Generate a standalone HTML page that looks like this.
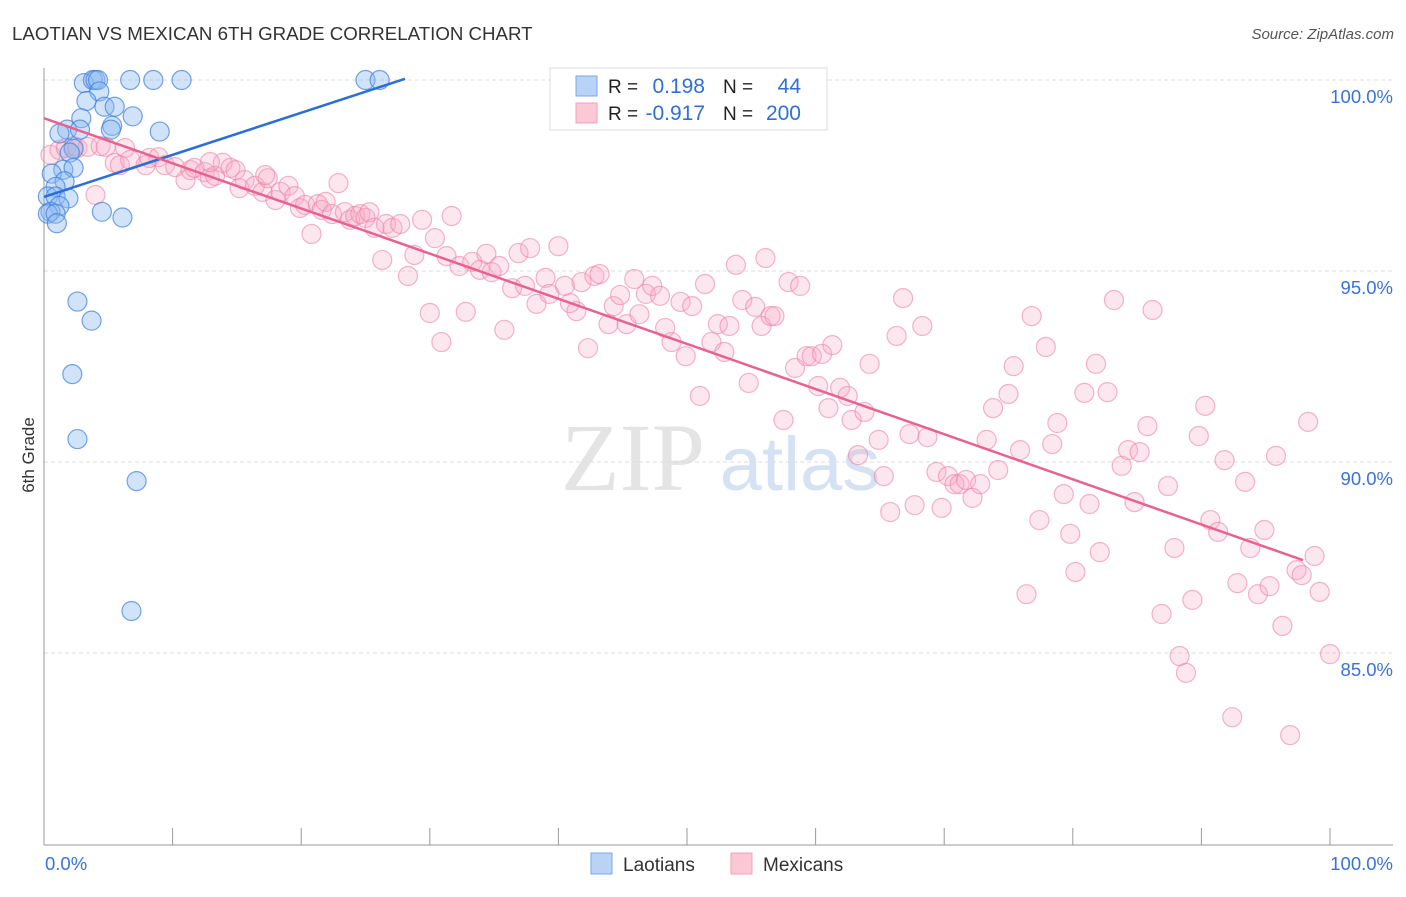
<!DOCTYPE html>
<html><head><meta charset="utf-8"><style>
body{margin:0;background:#fff;font-family:"Liberation Sans",sans-serif;}
svg text{font-family:"Liberation Sans",sans-serif;}
</style></head><body>
<svg id="chart" width="1406" height="892" xmlns="http://www.w3.org/2000/svg">
<text x="12" y="40" font-size="18.7" fill="#333">LAOTIAN VS MEXICAN 6TH GRADE CORRELATION CHART</text>
<text x="1394" y="39" font-size="15" font-style="italic" fill="#555" text-anchor="end">Source: ZipAtlas.com</text>
<g>
<text x="633" y="490" font-size="96" font-family="Liberation Serif" fill="#e4e4e4" text-anchor="middle" style="font-family:'Liberation Serif',serif">ZIP</text>
<text x="800" y="490" font-size="76" fill="#d4e2f4" text-anchor="middle">atlas</text>
</g>
<g id="grid"></g>
<g id="axes"></g>
<g id="pts"></g>
<g id="lines"></g>
<text x="34" y="455" font-size="17" fill="#333" text-anchor="middle" transform="rotate(-90 34 455)">6th Grade</text>
<g>
<rect x="550" y="68" width="277" height="62" fill="#fff" stroke="#ddd"/>
<rect x="576" y="76" width="21" height="20" fill="#b8d3f5" stroke="#7aaae8"/>
<rect x="576" y="103" width="21" height="20" fill="#fcc8d6" stroke="#f0a0bc"/>
<text x="608" y="93" font-size="19" fill="#222">R =</text><text x="705" y="93" font-size="21" fill="#2f6fd6" text-anchor="end">0.198</text>
<text x="723" y="93" font-size="19" fill="#222">N =</text><text x="801" y="93" font-size="21" fill="#2f6fd6" text-anchor="end">44</text>
<text x="608" y="120" font-size="19" fill="#222">R =</text><text x="705" y="120" font-size="21" fill="#2f6fd6" text-anchor="end">-0.917</text>
<text x="723" y="120" font-size="19" fill="#222">N =</text><text x="801" y="120" font-size="21" fill="#2f6fd6" text-anchor="end">200</text>
</g>
<g>
<rect x="591" y="853" width="21" height="21" fill="#b8d3f5" stroke="#7aaae8"/>
<text x="623" y="871" font-size="19" fill="#333">Laotians</text>
<rect x="731" y="853" width="21" height="21" fill="#fcc8d6" stroke="#f0a0bc"/>
<text x="763" y="871" font-size="19" fill="#333">Mexicans</text>
</g>
</svg>
<script>
const yTicks=[100,95,90,85];
const yTickLabels=["100.0%","95.0%","90.0%","85.0%"];
const xEndLabels=["0.0%","100.0%"];
const laoX=[3.1,3.8,4.0,4.2,6.7,8.5,10.7,25.0,26.1,4.3,3.3,4.7,5.5,2.9,6.9,5.3,5.2,1.8,9.0,1.2,2.8,2.3,2.0,1.5,2.3,0.6,1.6,0.9,0.3,0.9,1.9,1.2,0.5,0.3,0.9,4.5,6.1,1.0,2.6,3.7,2.2,2.6,7.2,6.8];
const laoY=[99.92,100,100,100,100,100,100,100,100,99.7,99.45,99.3,99.3,99.0,99.05,98.8,98.7,98.7,98.65,98.6,98.7,98.2,98.1,97.65,97.7,97.55,97.35,97.2,96.95,96.95,96.9,96.7,96.55,96.5,96.5,96.55,96.4,96.25,94.2,93.7,92.3,90.6,89.5,86.1];
const mexX=[0.5,1.2,1.7,2.3,2.6,3.4,4.4,4.8,6.3,5.5,5.9,6.7,7.9,8.2,8.9,9.4,10.2,11.0,11.4,11.7,12.5,12.9,13.3,13.9,14.5,14.9,15.2,15.6,16.4,17.0,17.4,18.0,18.4,19.0,19.5,19.9,20.3,20.8,21.3,21.6,21.9,22.4,22.9,23.4,23.8,24.2,24.6,25.0,25.3,25.7,26.3,26.6,27.1,27.7,28.3,28.8,29.4,30.0,30.4,30.9,31.3,31.7,32.3,32.8,33.3,33.9,34.4,34.8,35.4,35.8,36.4,36.9,37.4,37.8,38.3,39.0,39.3,40.0,40.5,40.9,41.4,41.8,42.3,42.8,43.2,43.9,44.3,44.8,45.3,45.9,46.3,46.8,47.3,47.9,48.3,48.8,49.5,49.9,50.4,51.0,51.4,51.9,52.4,52.9,53.3,53.8,54.3,54.8,55.3,55.8,56.1,56.5,56.8,57.5,57.9,58.4,58.8,59.3,59.7,60.2,60.5,61.0,61.3,61.9,62.5,62.8,63.3,63.8,64.2,64.9,65.3,65.8,66.3,66.8,67.3,67.7,68.3,68.7,69.4,69.8,70.3,70.8,71.2,71.7,72.2,72.8,73.3,73.8,74.2,75.0,75.4,75.9,76.4,76.8,77.4,77.9,78.4,78.8,79.3,79.8,80.2,80.9,81.3,81.8,82.1,82.7,83.2,83.8,84.3,84.8,85.2,85.8,86.2,86.9,87.4,87.9,88.3,88.8,89.3,89.8,90.3,90.7,91.3,91.8,92.4,92.8,93.4,93.8,94.4,94.9,95.3,95.8,96.3,96.9,97.4,97.8,98.3,98.8,99.2,100.0,4.0,12.9,17.2];
const mexY=[98.04,98.17,98.22,98.27,98.22,98.25,98.27,98.25,98.22,97.83,97.77,97.91,97.77,97.96,97.98,97.77,97.72,97.38,97.64,97.70,97.59,97.43,97.49,97.83,97.70,97.64,97.17,97.38,97.23,97.07,97.43,96.86,97.07,97.23,96.96,96.65,96.73,95.97,96.75,96.60,96.81,96.49,97.30,96.54,96.34,96.44,96.49,96.39,96.54,96.13,95.29,96.23,96.13,96.23,94.87,95.42,96.34,93.90,95.86,93.14,95.39,96.44,95.13,93.93,95.24,95.03,95.45,94.97,95.13,93.46,94.55,95.47,94.61,95.60,94.14,94.82,94.40,95.65,94.61,94.16,93.95,94.71,92.98,94.87,94.92,93.61,94.08,94.37,93.61,94.79,93.87,94.40,94.61,94.35,93.51,93.14,94.19,92.77,94.08,91.73,94.66,93.14,93.61,92.88,93.56,95.16,94.24,92.07,94.06,93.56,95.34,93.82,93.82,91.10,94.71,92.46,94.61,92.77,92.77,91.99,92.83,91.41,93.06,91.94,91.73,91.10,90.18,91.31,92.57,90.58,89.63,88.69,93.30,94.29,90.73,88.87,93.56,90.65,89.74,88.80,89.63,89.42,89.42,89.53,89.06,89.42,90.58,91.41,89.79,91.78,92.51,90.31,86.54,93.82,88.48,93.01,90.47,91.02,89.16,88.12,87.12,91.81,88.90,92.57,87.64,91.83,94.24,89.90,90.31,88.95,90.26,90.94,93.98,86.02,89.37,87.75,84.92,84.48,86.39,90.68,91.47,88.48,88.17,90.05,83.32,86.83,89.48,87.75,86.54,88.22,86.75,90.16,85.71,82.85,87.17,87.04,91.05,87.54,86.60,84.97,96.99,97.85,97.51];
const laoTrend=[[0,96.94],[28.07,100.03]];
const mexTrend=[[0,99.0],[97.9,87.43]];

const NS="http://www.w3.org/2000/svg";
const X0=44,X1=1330,YTOP=80,PX_PER=38.2;
const sx=v=>X0+(X1-X0)*v/100;
const sy=v=>YTOP+(100-v)*PX_PER;
function mk(tag,attrs,parent){const e=document.createElementNS(NS,tag);for(const k in attrs)e.setAttribute(k,attrs[k]);parent.appendChild(e);return e;}
const grid=document.getElementById('grid'),axes=document.getElementById('axes'),pts=document.getElementById('pts'),lines=document.getElementById('lines');
yTicks.forEach((t,i)=>{
 const l=mk('line',{x1:X0,x2:1393,y1:sy(t),y2:sy(t),stroke:'#ddd','stroke-dasharray':'4,3'},grid);
 
 
 const tx=mk('text',{x:1393,y:sy(t)+23,'font-size':18.5,fill:'#3a72d8','text-anchor':'end'},axes);
 tx.textContent=yTickLabels[i];
 
 
});
const ya=mk('line',{x1:X0,x2:X0,y1:68,y2:845,stroke:'#999'},axes);


const xa=mk('line',{x1:X0,x2:1393,y1:845,y2:845,stroke:'#999'},axes);


for(let i=0;i<=10;i++){
 const tk=mk('line',{x1:sx(i*10),x2:sx(i*10),y1:828,y2:845,stroke:'#999'},axes);
 
 
}
[[0,'start'],[100,'end']].forEach((p,i)=>{
 const tx=mk('text',{x:i?sx(100)+63:sx(0)+1,y:870,'font-size':18.5,fill:'#3a72d8','text-anchor':p[1]},axes);
 tx.textContent=xEndLabels[i];
 
 
});
mexX.forEach((v,i)=>{
 const c=mk('circle',{cx:sx(v),cy:sy(mexY[i]),r:9.5,fill:'rgba(248,170,195,0.28)',stroke:'rgba(236,130,165,0.6)','stroke-width':1.2},pts);
 
 
});
laoX.forEach((v,i)=>{
 const c=mk('circle',{cx:sx(v),cy:sy(laoY[i]),r:9.5,fill:'rgba(140,185,240,0.4)',stroke:'rgba(60,125,220,0.7)','stroke-width':1.2},pts);
 
 
});
const lt=mk('line',{x1:sx(laoTrend[0][0]),y1:sy(laoTrend[0][1]),x2:sx(laoTrend[1][0]),y2:sy(laoTrend[1][1]),stroke:'#2a6fd8','stroke-width':2.5},lines);


const mt=mk('line',{x1:sx(mexTrend[0][0]),y1:sy(mexTrend[0][1]),x2:sx(mexTrend[1][0]),y2:sy(mexTrend[1][1]),stroke:'#e8628f','stroke-width':2.5},lines);


</script>
</body></html>
